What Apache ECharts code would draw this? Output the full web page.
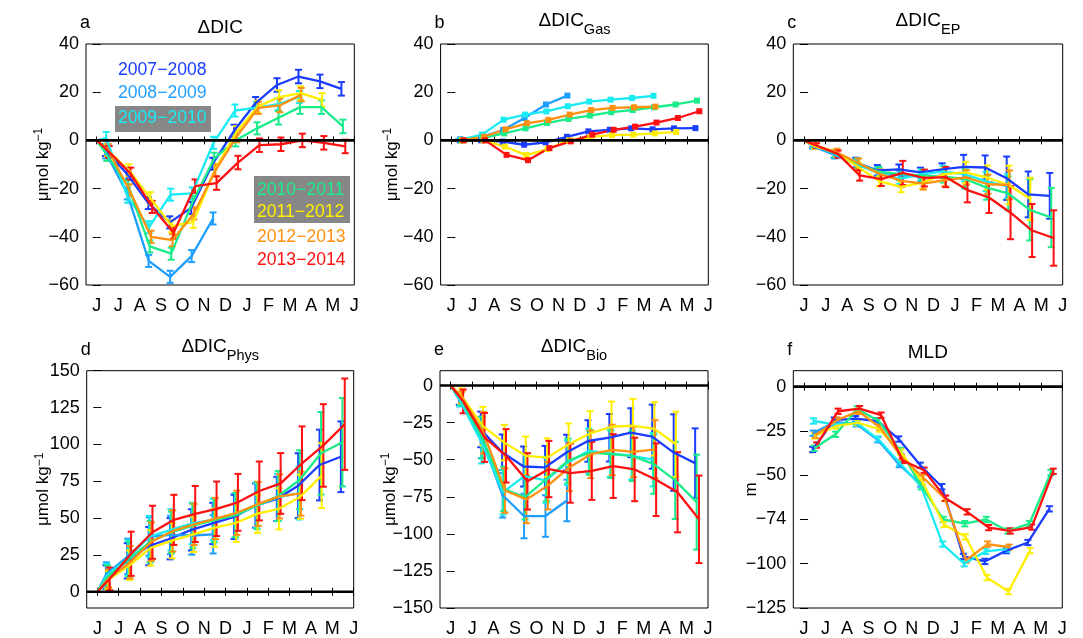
<!DOCTYPE html>
<html><head><meta charset="utf-8">
<script src="https://cdn.jsdelivr.net/npm/echarts@6/dist/echarts.min.js"></script>
<style>html,body{margin:0;padding:0;background:#fff}#c{width:1083px;height:638px}</style>
</head><body><div id="c"></div>
<script>
// ---------- data ----------
const monthLabels = ['J','J','A','S','O','N','D','J','F','M','A','M','J'];
const monthTicks = [0,1,2,3,4,5,6,7,8,9,10,11,12];
const startMonth = 0;      // budget terms start at zero on 1 June
const startValue = 0;
const midMonths = [0.5,1.5,2.5,3.5,4.5,5.5,6.5,7.5,8.5,9.5,10.5,11.5];
const seasonShift = [-0.1,-0.08,-0.06,-0.03,0,0.03,0.08];   // sampling-date offset of each season (months)
const seasons = ['2007−2008','2008−2009','2009−2010','2010−2011','2011−2012','2012−2013','2013−2014'];

// panel a : ΔDIC  (rows = seasons)
const dicVals = [
  [-4,-13.8,-26,-34,-28,-9.7,4,15.5,23,26.5,24.5,21.4],
  [-5,-22,-50,-56.6,-48,-32.4],
  [1,-23.4,-36,-22.5,-22,-1,12.4,13.5,15,18],
  [-6,-19,-44,-47,-25.5,-7.6,0,5,9.4,13.8,13.8,5.8],
  [-4,-12.4,-24,-35.6,-33.8,-12.4,3.4,14,18,19.6,16.8],
  [-4,-20.7,-40,-41.4,-30.3,-12.4,1.7,13.5,14.5,19],
  [-4.8,-13.8,-27.6,-38.3,-19,-17.7,-9.2,-2,-1.6,0,-1,-2.5]
];
const dicErrs = [
  [2.5,2.5,2.5,2.5,2.5,2.5,2.5,2.5,2.8,2.8,2.8,2.8],
  [2.5,2.5,2.5,2.5,2.5,2.5],
  [2.5,2.5,2.5,2.5,2.5,2.5,2.5,2.5,2.5,2.5],
  [2.5,2.5,2.5,2.5,2.5,2.5,2.5,2.5,2.8,2.8,2.8,2.8],
  [2.5,2.5,2.5,2.5,2.5,2.5,2.5,2.5,2.8,2.8,2.8],
  [2.5,2.5,2.5,2.5,2.5,2.5,2.5,2.5,2.8,2.8],
  [2.5,2.5,2.5,2.5,2.8,2.8,2.8,2.8,2.8,2.8,2.8,2.8]
];
// panel b : ΔDIC_Gas
const gasVals = [
  [0,0,-0.5,-1.8,-0.8,1.5,3.75,4.4,5,4.6,5,5.1],
  [0.5,1.5,4.3,9.3,14.9,18.6],
  [0.3,2.4,8.6,10.7,12,14.2,16.1,16.9,17.6,18.5],
  [0,1.1,2.9,5,7.2,8.9,10.3,11.7,12.6,13.75,14.9,16.5],
  [0,0,-2.6,-6.1,-3.6,0,1.5,2.2,2.4,2.9,3.5],
  [0.2,1.5,4.6,7.1,8.5,10.7,12.6,13.5,13.75,14],
  [0,0,-6,-8.2,-3.2,-0.4,2.4,4.4,5.7,7.4,9.3,12.1]
];
// panel c : ΔDIC_EP
const epVals = [
  [-2,-5.7,-9.2,-12.4,-12,-13.3,-12,-11,-11.25,-15.7,-22.4,-23],
  [-2.5,-6,-10,-13,-14.5,-15],
  [-2,-5.5,-10,-13.5,-16,-14,-13,-14,-17,-19],
  [-2,-5.5,-9.5,-13,-14,-14.5,-15,-16,-19.6,-22,-28.8,-32],
  [-2.5,-5,-11,-17,-19.3,-17.5,-14,-13.3,-15.4,-18.5,-24.3],
  [-2,-5,-9.5,-14,-16.8,-17.9,-16.5,-15.4,-18.2,-18.5],
  [-2.2,-5.7,-14.5,-16.1,-13.5,-15.6,-15.2,-20.6,-23.7,-30,-37.4,-40.5]
];
const epErrs = [
  [1,1.5,2,2.2,2,2,2.5,5,5,9,9.5,9.5],
  [1,1.5,2,2,2,2],
  [1,1.5,2,2,2,2,2.5,3,4,5],
  [1,1.5,2,2,2,2,2.5,4,5,7,12.7,12.3],
  [1,1.5,2,2,2.2,2.5,2.5,4.4,5,8,8.8],
  [1,1.5,2,2,2.5,2.5,2.5,3,4,6],
  [1,1.5,2.2,2.8,5,3.5,4.2,5.1,6.4,11,11,11.5]
];
// panel d : ΔDIC_Phys
const physVals = [
  [10,21,31,36,42,46.4,50.8,58.5,63,72,86,91.6],
  [12,24,37.5,38.6,38.2,39],
  [11,23,37.5,42,46.4,49,52,58.5,64,67],
  [10,22,34,40.4,44.8,48.6,52,58.5,65,76,94,101.5],
  [8,18,29.8,34.7,39,43.5,46.8,53,56.3,64.5,78.8],
  [9,20,34,41.3,45.7,49.7,53.6,59.6,64.7,66.7],
  [8.8,25.8,40.4,48.8,52.8,56.3,60.7,68.4,73.5,87.2,99.3,113.7]
];
const physErrs = [
  [8,12,13,14,14,14,15,15,15,22,24,24],
  [8,12,13,13,13,13],
  [8,12,14,14,14,14,15,15,16,18],
  [8,12,14,14,15,15,15,16,17,20,28,30],
  [6,10,12,12,12,13,13,13,14,15,22],
  [6,11,13,14,14,14,15,15,15,15],
  [7.7,15,18,17,19,18.5,19.3,20,20.6,25,28,31]
];
// panel e : ΔDIC_Bio
const bioVals = [
  [-9,-29.6,-45,-54.6,-55.2,-45.2,-37.4,-35.2,-31.8,-34.5,-45.2,-52.3],
  [-10,-35,-74,-88,-88,-77.5],
  [-10,-38.5,-72,-61,-64,-52,-44,-45.7,-47.4,-50],
  [-9,-35.2,-69.7,-75.3,-63,-50.8,-45.2,-46.3,-47.4,-53,-64,-78.6],
  [-7,-27.4,-38.5,-47.4,-48.6,-39.6,-32.3,-27.8,-27,-29.2,-39.6],
  [-8,-31.8,-70.8,-76.8,-67.5,-55.2,-46.3,-43.4,-44.8,-43],
  [-10.7,-35,-47.4,-64.6,-56.3,-59,-57.5,-54.3,-56.6,-63.5,-72,-90.2]
];
const bioErrs = [
  [4,12,12,13.5,14.5,12,14,16,16.5,21.6,25.8,23.4],
  [4,14,15,15,14,14],
  [4,14,15,15,15,15,15,16,16,18],
  [4,14,15,15,15,15,15,16,17,20,26,32],
  [5,13,12,13,13,14,15,17,18,18,22],
  [4,14,15,16,16,16,16,17,17,19.6],
  [8,16.5,18,19,19,20,19.6,21.5,21.4,24.5,27,29.5]
];
// panel f : MLD (m)
const mldVals = [
  [-35.5,-18.9,-18.1,-19.4,-29.6,-44.4,-56.5,-95.9,-98.7,-92.6,-88,-69],
  [-26.3,-20,-21,-30,-44,-55],
  [-19.4,-21.3,-20.4,-29.6,-43,-56.5,-88.9,-100,-93,-91.7],
  [-34.8,-26.9,-12.6,-19.4,-36.1,-56.5,-75,-77.4,-75,-81.5,-77.4,-48.5],
  [-27.8,-22.2,-20.4,-24,-37,-53.7,-77.8,-84.8,-107.8,-115.7,-92.6],
  [-27.4,-18.9,-13.9,-23,-39.8,-51.3,-63,-98,-88.9,-90.7],
  [-33,-13.9,-12.4,-16.1,-41.7,-47.2,-63,-70.7,-79.6,-81.5,-79.3,-47.8]
];
const mldErr = 1.5;

const yTicksDIC = [-60,-40,-20,0,20,40];
const yTicksPhys = [0,25,50,75,100,125,150];
const yTicksBio = [-150,-125,-100,-75,-50,-25,0];
const yTicksMLD = [-125,-100,-75,-50,-25,0];
const mldTickText = {'-125':'−125','-100':'−100','-75':'−74','-50':'−50','-25':'−25','0':'0'};

// ---------- styling ----------
const seasonColors = ['#1a3dff','#1e9eff','#1aebf2','#1aec8a','#ffee00','#ff9010','#ff1010'];
const FONT = '"Liberation Sans", Arial, Helvetica, sans-serif';
const xMin = -0.5, xMax = 12;
const minusFmt = v => (v < 0 ? '−' : '') + Math.abs(v);

const panels = [
  {vals:dicVals, errs:dicErrs, zero:true, mode:'err', box:[86,44,268.3,241], y:[-60,40], ticks:yTicksDIC, fmt:minusFmt, yname:'dic', gap:34,
   letter:'a', title:'ΔDIC', sub:''},
  {vals:gasVals, errs:null, zero:true, mode:'mark', box:[440.6,44,267.7,241], y:[-60,40], ticks:yTicksDIC, fmt:minusFmt, yname:'dic', gap:40,
   letter:'b', title:'ΔDIC', sub:'Gas'},
  {vals:epVals, errs:epErrs, zero:true, mode:'err', box:[793.3,44,269.4,241], y:[-60,40], ticks:yTicksDIC, fmt:minusFmt, yname:null, gap:40,
   letter:'c', title:'ΔDIC', sub:'EP'},
  {vals:physVals, errs:physErrs, zero:true, mode:'err', box:[86.7,370.7,267,241], y:[-11,150], ticks:yTicksPhys, fmt:minusFmt, yname:'dic', gap:34.5,
   letter:'d', title:'ΔDIC', sub:'Phys'},
  {vals:bioVals, errs:bioErrs, zero:true, mode:'err', box:[440,370.7,268,241], y:[-150,10], ticks:yTicksBio, fmt:minusFmt, yname:'dic', gap:41,
   letter:'e', title:'ΔDIC', sub:'Bio'},
  {vals:mldVals, errs:'const', zero:false, mode:'err', box:[793.3,370.7,269,241], y:[-125,9], ticks:yTicksMLD, fmt:v=>mldTickText[String(v)], yname:'m', gap:33,
   letter:'f', title:'MLD', sub:''}
];

const grids = [], xAxes = [], yAxes = [], series = [], graphics = [];

function errRender(color){
  return function(params, api){
    const x = api.value(0);
    const lo = api.coord([x, api.value(1)]);
    const hi = api.coord([x, api.value(2)]);
    const w = 3.5;
    const st = {stroke: color, lineWidth: 2};
    return {type:'group', children:[
      {type:'line', shape:{x1:lo[0],y1:lo[1],x2:hi[0],y2:hi[1]}, style:st},
      {type:'line', shape:{x1:lo[0]-w,y1:lo[1],x2:lo[0]+w,y2:lo[1]}, style:st},
      {type:'line', shape:{x1:hi[0]-w,y1:hi[1],x2:hi[0]+w,y2:hi[1]}, style:st}
    ]};
  };
}

panels.forEach((p, i) => {
  grids.push({left:p.box[0], top:p.box[1], width:p.box[2], height:p.box[3], show:true, borderColor:'#000', borderWidth:1, backgroundColor:'rgba(0,0,0,0)'});
  const mkTick = () => ({show:true, inside:true, length:4, customValues:monthTicks, lineStyle:{color:'#000', width:1}});
  xAxes.push({type:'value', gridIndex:i, position:'bottom', min:xMin, max:xMax, splitLine:{show:false}, axisLine:{show:false},
    axisTick:mkTick(),
    axisLabel:{customValues:monthTicks, formatter:v => monthLabels[Math.round(v)], fontSize:18, fontFamily:FONT, color:'#000', margin:12}});
  xAxes.push({type:'value', gridIndex:i, position:'top', min:xMin, max:xMax, splitLine:{show:false}, axisLine:{show:false},
    axisTick:mkTick(), axisLabel:{show:false}});
  const mkYTick = () => ({show:true, inside:true, length:4, customValues:p.ticks, lineStyle:{color:'#000', width:1}});
  const yl = {type:'value', gridIndex:i, position:'left', min:p.y[0], max:p.y[1], splitLine:{show:false}, axisLine:{show:false},
    axisTick:mkYTick(),
    axisLabel:{customValues:p.ticks, formatter:p.fmt, fontSize:18, fontFamily:FONT, color:'#000', margin:7}};
  if (p.yname === 'dic') {
    yl.name = '{n|μmol kg}{s|−1}';
    yl.nameLocation = 'middle'; yl.nameRotate = 90; yl.nameGap = p.gap; yl.nameMoveOverlap = false;
    yl.nameTextStyle = {rich:{n:{fontSize:17, fontFamily:FONT, color:'#000', verticalAlign:'bottom'},
                              s:{fontSize:12, fontFamily:FONT, color:'#000', verticalAlign:'bottom', padding:[0,0,7,0]}}};
  } else if (p.yname === 'm') {
    yl.name = 'm'; yl.nameLocation = 'middle'; yl.nameRotate = 90; yl.nameGap = p.gap; yl.nameMoveOverlap = false;
    yl.nameTextStyle = {fontSize:17, fontFamily:FONT, color:'#000'};
  }
  yAxes.push(yl);
  yAxes.push({type:'value', gridIndex:i, position:'right', min:p.y[0], max:p.y[1], splitLine:{show:false}, axisLine:{show:false},
    axisTick:mkYTick(), axisLabel:{show:false}});

  p.vals.forEach((vals, s) => {
    const color = seasonColors[s];
    const xs = midMonths.map(m => m + seasonShift[s]);
    const data = vals.map((v, k) => [xs[k], v]);
    if (p.zero) data.unshift({value:[startMonth, startValue], symbol:'none'});
    series.push({type:'line', name:seasons[s], xAxisIndex:2*i, yAxisIndex:2*i, data:data, silent:true, animation:false,
      showSymbol: p.mode === 'mark', showAllSymbol:true, symbol:'rect', symbolSize:[6,6],
      lineStyle:{color:color, width:2.3}, itemStyle:{color:color}, z:2});
    if (p.errs) {
      const edata = vals.map((v, k) => {
        const e = p.errs === 'const' ? mldErr : p.errs[s][k];
        return [xs[k], v - e, v + e];
      });
      series.push({type:'custom', xAxisIndex:2*i, yAxisIndex:2*i, data:edata, silent:true, animation:false,
        encode:{x:0, y:[1,2]}, renderItem:errRender(color), z:2});
    }
  });
  // zero reference line
  series.push({type:'line', xAxisIndex:2*i, yAxisIndex:2*i, data:[[xMin,0],[xMax,0]], silent:true, animation:false,
    showSymbol:false, lineStyle:{color:'#000', width:2.6}, z:5});

  // panel letter and title
  const row1 = i < 3;
  const cx = p.box[0] + p.box[2] / 2;
  graphics.push({type:'text', x:p.box[0] - 6, y: row1 ? 32 : 359, silent:true,
    style:{text:p.letter, font:'18px ' + FONT, fill:'#000', align:'left', verticalAlign:'bottom'}});
  if (p.sub) {
    graphics.push({type:'text', x:cx, y: row1 ? 37 : 363.5, silent:true,
      style:{text:'{m|' + p.title + '}{s|' + p.sub + '}', align:'center', verticalAlign:'bottom',
        rich:{m:{font:'19px ' + FONT, fill:'#000', verticalAlign:'bottom', padding:[0,0,7,0]},
              s:{font:'14.5px ' + FONT, fill:'#000', verticalAlign:'bottom'}}}});
  } else {
    graphics.push({type:'text', x:cx, y: row1 ? 37 : 362.5, silent:true,
      style:{text:p.title, font:'19px ' + FONT, fill:'#000', align:'center', verticalAlign:'bottom'}});
  }
});

// in-panel season labels (panel a)
graphics.push({type:'rect', shape:{x:115, y:106, width:96, height:26}, style:{fill:'#878787'}, silent:true});
graphics.push({type:'rect', shape:{x:254, y:176, width:96, height:47}, style:{fill:'#878787'}, silent:true});
const legendPos = [[118,70],[118,93],[118,118.5],[257,190.5],[257,212.5],[257,237],[257,260]];
seasons.forEach((s, k) => {
  graphics.push({type:'text', x:legendPos[k][0], y:legendPos[k][1], silent:true, z:10,
    style:{text:s, font:'17.6px ' + FONT, fill:seasonColors[k], align:'left', verticalAlign:'middle'}});
});

const chart = echarts.init(document.getElementById('c'), null, {renderer:'canvas'});
chart.setOption({
  animation:false,
  backgroundColor:'#fff',
  grid:grids, xAxis:xAxes, yAxis:yAxes, series:series,
  graphic:graphics
});
</script></body></html>
